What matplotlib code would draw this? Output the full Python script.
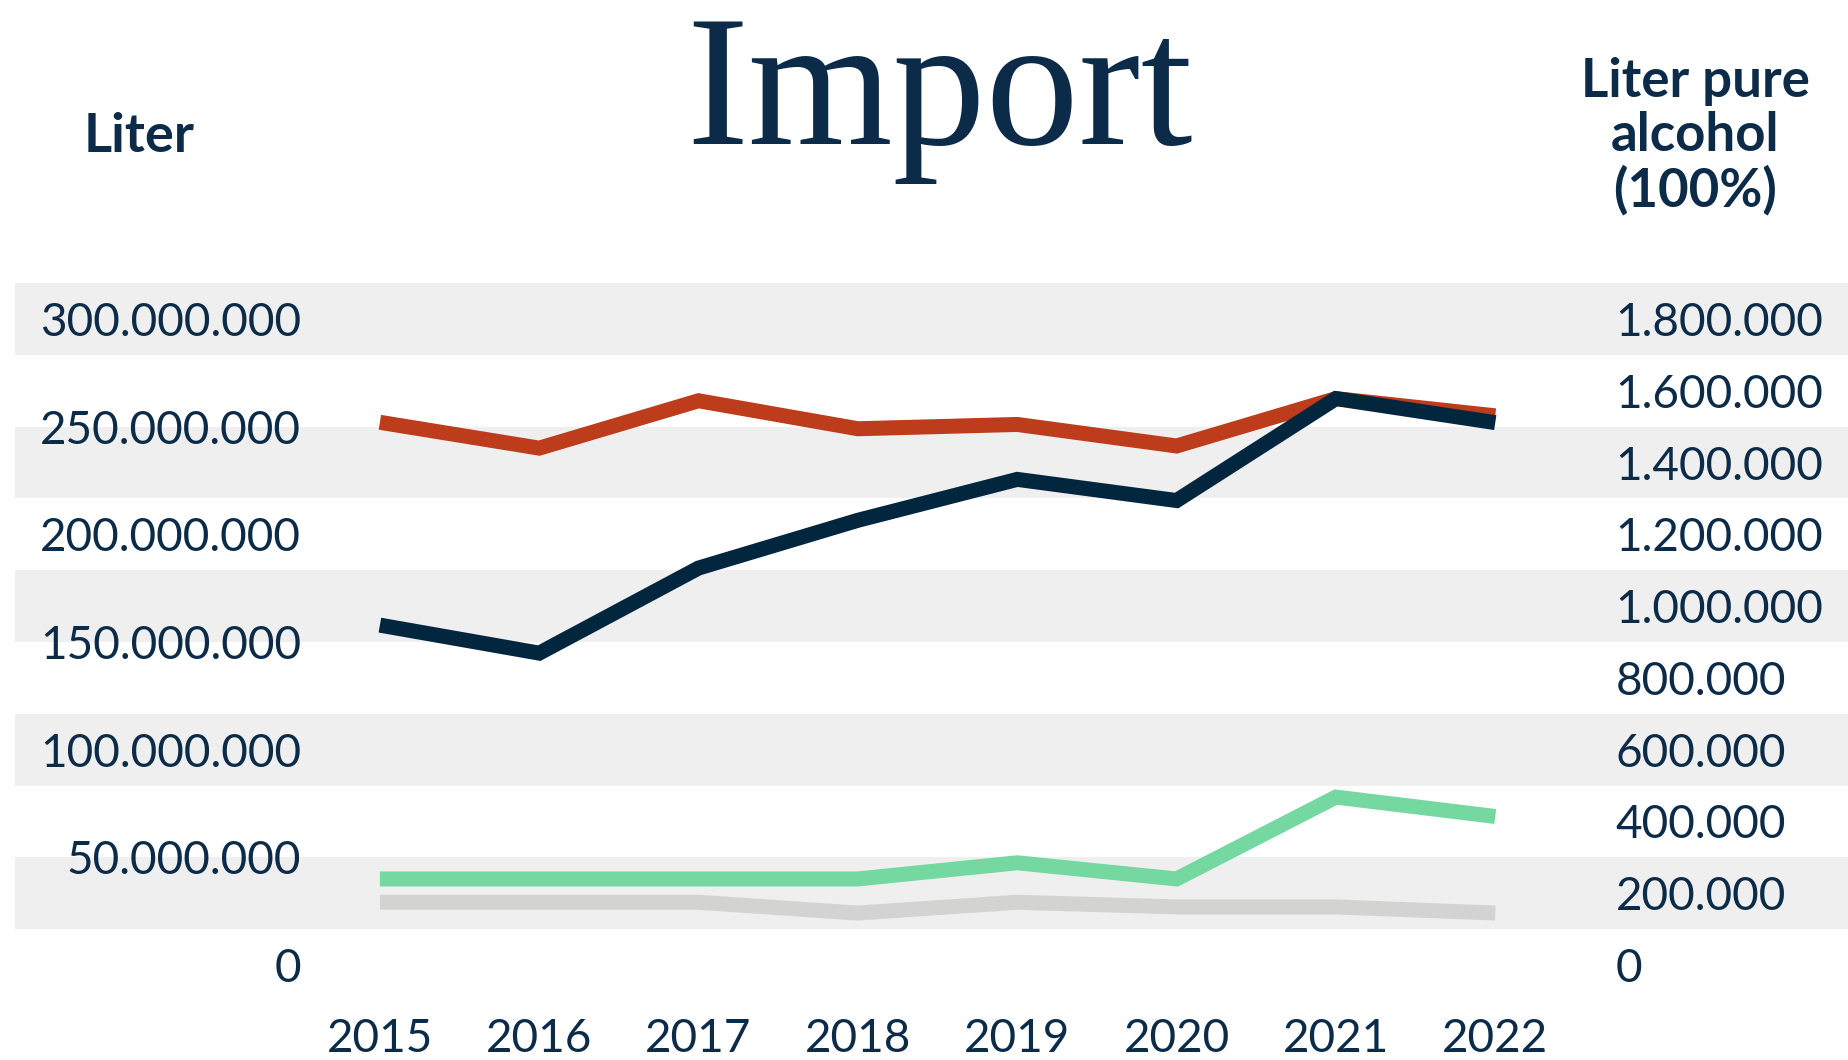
import matplotlib.pyplot as plt
from matplotlib.ticker import FuncFormatter

years = [2015, 2016, 2017, 2018, 2019, 2020, 2021, 2022]

# liters (left axis)
red_liter = [252e6, 240e6, 262e6, 249e6, 251e6, 241e6, 263e6, 255e6]
green_liter = [40e6, 40e6, 40e6, 40e6, 47.5e6, 40e6, 78e6, 69e6]

# liter pure alcohol (right axis)
navy_pure = [947e3, 869e3, 1106e3, 1239e3, 1353e3, 1294e3, 1578e3, 1511e3]
gray_pure = [175e3, 175e3, 175e3, 145e3, 175e3, 162e3, 162e3, 145e3]

left_ticks = [0, 50e6, 100e6, 150e6, 200e6, 250e6, 300e6]
right_ticks = [0, 200e3, 400e3, 600e3, 800e3, 1000e3, 1200e3, 1400e3, 1600e3, 1800e3]
band_centers = [200e3, 600e3, 1000e3, 1400e3, 1800e3]

navy = '#03263f'
text_col = '#0c2b48'
ratio = 300e6 / 1800e3

plt.rcParams['font.family'] = ['Lato', 'DejaVu Sans']

W, H = 1849, 1060
fig = plt.figure(figsize=(W / 100, H / 100), dpi=100)
ax = fig.add_axes([15 / W, 59 / H, 1834 / W, 718 / H])
ax2 = ax.twinx()

ax2.set_ylim(-100e3, 1900e3)
ax.set_ylim(-100e3 * ratio, 1900e3 * ratio)
ax.set_xlim(2012.71, 2024.22)

for c in band_centers:
    ax.axhspan((c - 100e3) * ratio, (c + 100e3) * ratio, color='#efefef', lw=0, zorder=0)

lw = 10.8
ax.plot(years, green_liter, color='#74d8a0', lw=lw, solid_capstyle='butt', solid_joinstyle='miter', zorder=3)
ax.plot(years, red_liter, color='#bc3c1b', lw=lw, solid_capstyle='butt', solid_joinstyle='miter', zorder=3)
ax2.plot(years, gray_pure, color='#d3d3d1', lw=lw, solid_capstyle='butt', solid_joinstyle='miter', zorder=3)
ax2.plot(years, navy_pure, color=navy, lw=lw, solid_capstyle='butt', solid_joinstyle='miter', zorder=3)

fmt = FuncFormatter(lambda v, p: f"{int(round(v)):,}".replace(',', '.'))
ax.set_yticks(left_ticks)
ax.yaxis.set_major_formatter(fmt)
ax2.set_yticks(right_ticks)
ax2.yaxis.set_major_formatter(fmt)
ax.set_xticks(years)
ax.set_xticklabels([str(y) for y in years])

ax.tick_params(axis='y', length=0, pad=-206, labelsize=33, labelcolor=text_col)
ax2.tick_params(axis='y', length=0, pad=-168, labelsize=33, labelcolor=text_col)
ax.tick_params(axis='x', length=0, pad=12, labelsize=33, labelcolor=text_col)

for a in (ax, ax2):
    for s in a.spines.values():
        s.set_visible(False)

fig.text(940 / W, 1 - 144 / H, 'Import', fontsize=134, family='Liberation Serif',
         color=text_col, ha='center', va='baseline')
fig.text(139 / W, 1 - 136 / H, 'Liter', fontsize=39, fontweight='bold',
         color=text_col, ha='center', va='center')
fig.text(1695 / W, 1 - 136 / H, 'Liter pure\nalcohol\n(100%)', fontsize=38, fontweight='bold',
         color=text_col, ha='center', va='center', linespacing=1.12)

fig.savefig('out.png', dpi=100)
